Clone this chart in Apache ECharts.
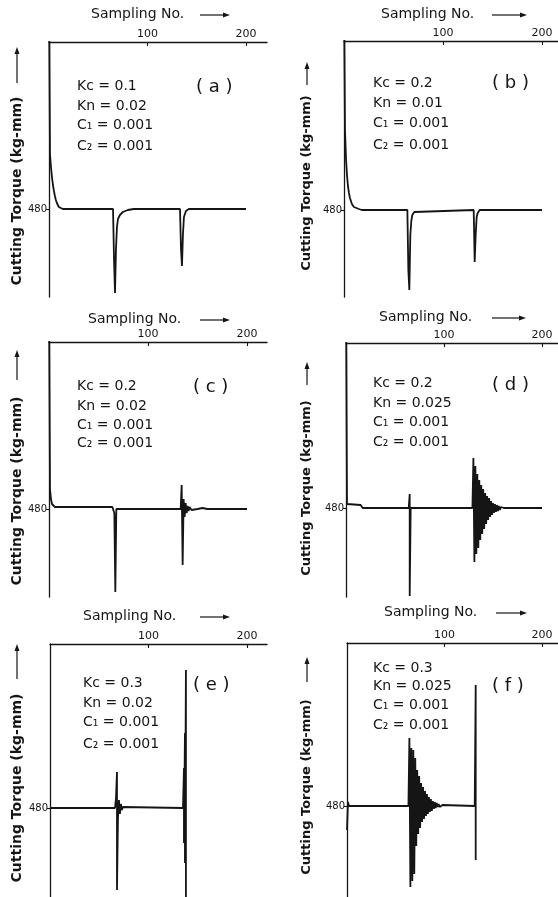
<!DOCTYPE html>
<html><head><meta charset="utf-8">
<script src="https://cdn.jsdelivr.net/npm/echarts@6/dist/echarts.min.js"></script>
<style>html,body{margin:0;padding:0;background:#fff}#c{width:558px;height:897px}</style>
</head><body><div id="c"></div>
<script>
// ---------- data ----------
const panelLabels = ['( a )', '( b )', '( c )', '( d )', '( e )', '( f )'];
const kcValues = ['0.1', '0.2', '0.2', '0.2', '0.3', '0.3'];
const knValues = ['0.02', '0.01', '0.02', '0.025', '0.02', '0.025'];
const c1Values = ['0.001', '0.001', '0.001', '0.001', '0.001', '0.001'];
const c2Values = ['0.001', '0.001', '0.001', '0.001', '0.001', '0.001'];
const xTickValues = [100, 200];
const yTickValues = [480];
const xTitle = 'Sampling No.';
const yTitle = 'Cutting Torque (kg-mm)';

const torqueA = [[0,700],[1,535],[2,522],[3,512],[4,504],[5,498],[6,493],[7,489],[8,486],[9,484],[10,482],[12,481],[14,480],[65,480],[66,430],[67,396],[68,440],[69,462],[70,470],[72,474],[75,477],[80,479],[86,480],[133,480],[134,440],[135,423],[136,455],[137,472],[139,478],[142,480],[200,480]];
const torqueB = [[0,700],[1,560],[2,532],[3,515],[4,504],[5,497],[6,492],[7,489],[8,486],[10,483],[12,482],[15,481],[18,480],[64,480],[65,420],[66,400],[67,455],[68,469],[69,475],[71,478],[73,480],[131,480],[132,428],[133,455],[134,473],[135,477],[137,480],[200,480]];
const torqueC = [[0,700],[1,500],[2,490],[3,485],[4,483],[6,482],[64,482],[65,480],[66,476],[67,397],[68,480],[133,480],[134,504],[135,424],[136,490],[137,472],[138,486],[139,476],[140,483],[141,478],[142,482],[144,479],[146,481],[150,480],[155,481],[160,480],[200,480]];
const torqueD = [[0,700],[1,484],[2,483],[15,483],[17,480],[64,480],[65,494],[65,392],[66,480],[129,480],[130,530],[131,426],[132,522],[133,434],[134,514],[135,440],[136,508],[137,448],[138,503],[139,454],[140,499],[141,459],[142,495],[143,464],[144,492],[145,468],[146,490],[147,471],[148,487],[149,473],[150,485],[151,475],[152,484],[153,476],[154,483],[155,477],[156,482],[157,478],[158,481],[159,479],[160,481],[161,480],[200,480]];
const torqueE = [[0,480],[66,480],[67,490],[68,516],[68,398],[69,470],[70,488],[71,474],[72,484],[73,478],[74,481],[75,480],[135,480],[136,520],[136,445],[137,555],[137,425],[138,618],[138,370]];
const torqueF = [[0,456],[1,484],[2,480],[63,480],[64,548],[65,399],[66,538],[67,405],[68,536],[69,412],[70,528],[71,440],[72,516],[73,452],[74,510],[75,458],[76,503],[77,464],[78,499],[79,467],[80,495],[81,470],[82,492],[83,472],[84,489],[85,474],[86,487],[87,475],[88,485],[89,477],[90,484],[91,478],[92,483],[93,479],[94,482],[95,479],[96,481],[97,480],[98,481],[99,480],[131,480],[132,601],[132,426]];
const torqueSeries = [torqueA, torqueB, torqueC, torqueD, torqueE, torqueF];

// ---------- layout (pixels) ----------
const layout = [
  {left:49,  top:42,  bottom:297, x200:246, xEnd:267, y480:209, tx:91,  ty:15,  ax:[200,230], yl:{x:17,  c:191, a:[83,47],  fs:14}, px:77,  py:[86,106,125,146], lx:196, ly:87},
  {left:344, top:41,  bottom:297, x200:542, xEnd:558, y480:210, tx:381, ty:15,  ax:[492,527], yl:{x:307, c:183, a:[85,62],  fs:13}, px:373, py:[83,103,123,145], lx:492, ly:83},
  {left:49,  top:342, bottom:597, x200:247, xEnd:267, y480:509, tx:88,  ty:320, ax:[200,230], yl:{x:17,  c:491, a:[380,350], fs:14}, px:77,  py:[386,406,425,443], lx:193, ly:387},
  {left:346, top:343, bottom:597, x200:542, xEnd:558, y480:508, tx:379, ty:318, ax:[492,526], yl:{x:307, c:488, a:[385,362], fs:13}, px:373, py:[383,403,422,442], lx:492, ly:385},
  {left:50,  top:644, bottom:897, x200:247, xEnd:267, y480:808, tx:83,  ty:617, ax:[200,230], yl:{x:17,  c:788, a:[679,644], fs:14}, px:83,  py:[683,703,722,744], lx:193, ly:685},
  {left:347, top:643, bottom:897, x200:542, xEnd:558, y480:806, tx:384, ty:613, ax:[496,527], yl:{x:307, c:787, a:[682,657], fs:13}, px:373, py:[668,686,705,725], lx:492, ly:686}
];

const INK = '#151515';
const FONT = '"DejaVu Sans", sans-serif';

const grids = [], xAxes = [], yAxes = [], series = [], graphics = [];
layout.forEach((L, i) => {
  const scale = (L.x200 - L.left) / 200;
  const xMax = (L.xEnd - L.left) / scale;
  const yMax = 480 + (L.y480 - L.top);
  const yMin = 480 - (L.bottom - L.y480);
  grids.push({left: L.left, top: L.top, width: L.xEnd - L.left, height: L.bottom - L.top,
    containLabel: false, outerBoundsMode: 'none'});
  xAxes.push({gridIndex: i, type: 'value', position: 'top', min: 0, max: xMax,
    axisLine: {show: true, onZero: false, lineStyle: {color: INK, width: 1.3}},
    axisTick: {show: true, inside: true, length: 4, customValues: xTickValues, lineStyle: {color: INK, width: 1.1}},
    axisLabel: {show: true, customValues: xTickValues, fontSize: 11, color: INK, margin: 2, fontFamily: FONT},
    splitLine: {show: false}});
  yAxes.push({gridIndex: i, type: 'value', min: yMin, max: yMax,
    axisLine: {show: true, onZero: false, lineStyle: {color: INK, width: 1.3}},
    axisTick: {show: true, length: 3, customValues: yTickValues, lineStyle: {color: INK, width: 1.1}},
    axisLabel: {show: true, customValues: yTickValues, fontSize: 10, color: INK, margin: 2, fontFamily: FONT},
    splitLine: {show: false}});
  series.push({type: 'line', xAxisIndex: i, yAxisIndex: i, data: torqueSeries[i], symbol: 'none',
    clip: true, lineStyle: {color: INK, width: 1.8}, animation: false});

  // x title + arrow
  graphics.push({type: 'text', left: L.tx, top: L.ty - 8, style: {text: xTitle, fill: INK, font: '14px ' + FONT}});
  graphics.push({type: 'line', shape: {x1: L.ax[0], y1: L.ty, x2: L.ax[1] - 5, y2: L.ty}, style: {stroke: INK, lineWidth: 1.2}});
  graphics.push({type: 'polygon', shape: {points: [[L.ax[1], L.ty], [L.ax[1] - 7, L.ty - 2.5], [L.ax[1] - 7, L.ty + 2.5]]}, style: {fill: INK}});
  // y title + arrow
  graphics.push({type: 'text', x: L.yl.x, y: L.yl.c, rotation: Math.PI / 2,
    style: {text: yTitle, fill: INK, font: 'bold ' + L.yl.fs + 'px ' + FONT, textAlign: 'center', textVerticalAlign: 'middle'}});
  graphics.push({type: 'line', shape: {x1: L.yl.x, y1: L.yl.a[0], x2: L.yl.x, y2: L.yl.a[1] + 5}, style: {stroke: INK, lineWidth: 1.2}});
  graphics.push({type: 'polygon', shape: {points: [[L.yl.x, L.yl.a[1]], [L.yl.x - 2.5, L.yl.a[1] + 7], [L.yl.x + 2.5, L.yl.a[1] + 7]]}, style: {fill: INK}});
  // parameters
  const lines = ['Kc = ' + kcValues[i], 'Kn = ' + knValues[i], 'C\u2081 = ' + c1Values[i], 'C\u2082 = ' + c2Values[i]];
  lines.forEach((t, k) => {
    graphics.push({type: 'text', x: L.px, y: L.py[k], style: {text: t, fill: INK, font: '14px ' + FONT, textVerticalAlign: 'middle'}});
  });
  graphics.push({type: 'text', x: L.lx, y: L.ly, style: {text: panelLabels[i], fill: INK, font: '18px ' + FONT, textVerticalAlign: 'middle'}});
});

const chart = echarts.init(document.getElementById('c'), null, {renderer: 'canvas'});
chart.setOption({animation: false, backgroundColor: '#ffffff', grid: grids, xAxis: xAxes, yAxis: yAxes, series: series, graphic: graphics});
</script></body></html>
